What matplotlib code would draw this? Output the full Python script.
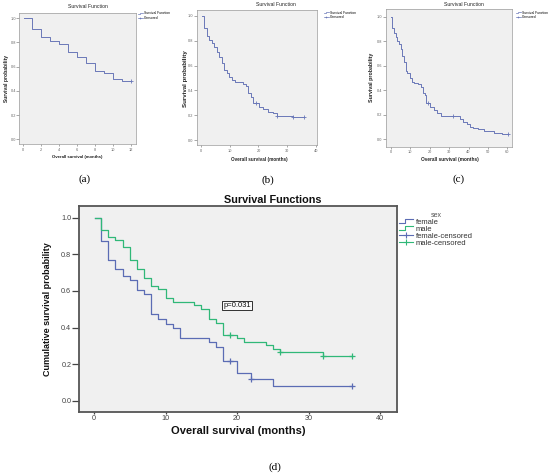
import matplotlib
matplotlib.use('Agg')
import matplotlib.pyplot as plt
from matplotlib.lines import Line2D
from matplotlib.legend_handler import HandlerBase

# --- (a) survival, first 12 months
a_time = [0.1, 1, 2, 3, 4, 5, 6, 7, 8, 9, 10, 11, 12]
a_surv = [1.0, 0.909, 0.843, 0.815, 0.785, 0.724, 0.678, 0.633, 0.567, 0.545, 0.498, 0.480, 0.480]
a_cens_time = [12]
a_cens_surv = [0.480]

# --- (b) survival, 36 months
b_time = [0.5, 1.0, 2.0, 2.8, 3.7, 4.6, 5.45, 6.4, 7.2, 8.1, 9.05, 9.9, 10.9, 11.7,
          14.7, 15.5, 16.5, 17.3, 18.2, 20.2, 21.7, 23.5, 25.2, 26.4, 32.2, 36]
b_surv = [1.0, 0.90, 0.839, 0.806, 0.78, 0.753, 0.712, 0.667, 0.618, 0.565, 0.538, 0.505, 0.484, 0.465,
          0.452, 0.435, 0.376, 0.349, 0.296, 0.263, 0.247, 0.228, 0.215, 0.194, 0.183, 0.183]
b_cens_time = [19.2, 26.4, 32.2, 36]
b_cens_surv = [0.296, 0.194, 0.183, 0.183]

# --- (c) survival, 60 months
c_time = [0.2, 0.84, 1.7, 2.6, 3.4, 4.3, 5.1, 6.0, 6.8, 7.7, 8.6, 9.9, 10.8, 12.2, 14.2, 15.4, 16.6,
          17.6, 18.3, 20.4, 22.1, 23.8, 25.8, 35.5, 37.3, 39, 40.8, 42.5, 45, 48, 53, 57, 60.2]
c_surv = [1.0, 0.91, 0.87, 0.832, 0.804, 0.777, 0.734, 0.68, 0.633, 0.56, 0.543, 0.497, 0.47, 0.462, 0.45, 0.43, 0.378,
          0.36, 0.296, 0.263, 0.242, 0.217, 0.19, 0.163, 0.141, 0.122, 0.103, 0.095, 0.087, 0.068, 0.054, 0.041, 0.041]
c_cens_time = [19, 31.9, 60.2]
c_cens_surv = [0.296, 0.19, 0.041]

# --- (d) survival by sex
f_time = [0.2, 1, 2, 3, 4, 5, 6, 7, 8, 9, 10, 11, 12, 16, 17, 18, 20, 22, 25, 36]
f_surv = [1.0, 0.873, 0.769, 0.72, 0.684, 0.66, 0.606, 0.583, 0.474, 0.447, 0.421, 0.398, 0.343,
          0.32, 0.292, 0.215, 0.153, 0.122, 0.08, 0.08]
f_cens_time = [19, 22, 36]
f_cens_surv = [0.215, 0.122, 0.08]

m_time = [0.2, 1, 2, 3, 4, 5, 6, 7, 8, 9, 10, 11, 14, 15, 16, 17, 18, 20, 21, 24, 25, 26, 32, 36]
m_surv = [1.0, 0.932, 0.894, 0.879, 0.842, 0.77, 0.718, 0.669, 0.628, 0.61, 0.561, 0.539, 0.524,
          0.503, 0.445, 0.427, 0.361, 0.343, 0.32, 0.303, 0.284, 0.265, 0.247, 0.247]
m_cens_time = [19, 26, 32, 36]
m_cens_surv = [0.361, 0.265, 0.247, 0.247]

p_text = "p=0.031"
y_ticks = [0.0, 0.2, 0.4, 0.6, 0.8, 1.0]

W, H = 550, 476
def fx(x):
    return x / W
def fy(y):
    return 1 - y / H
def rect(l, t, r, b):
    return [fx(l), fy(b), (r - l) / W, (b - t) / H]

plt.rcParams['font.family'] = ['Liberation Sans', 'DejaVu Sans']
fig = plt.figure(figsize=(5.5, 4.76), dpi=100)

BLUE_S = '#6a78b8'
BLUE = '#5b6cb4'
GREEN = '#30b878'
BG = '#f0f0f0'


class StepHandler(HandlerBase):
    # little step glyph like the SPSS legend
    def create_artists(self, legend, orig_handle, xdescent, ydescent, width, height, fontsize, trans):
        x0, y0 = -xdescent, -ydescent
        xs = [x0, x0 + 0.45 * width, x0 + 0.45 * width, x0 + width]
        ys = [y0 + 0.2 * height, y0 + 0.2 * height, y0 + 0.85 * height, y0 + 0.85 * height]
        ln = Line2D(xs, ys, color=orig_handle.get_color(), lw=orig_handle.get_linewidth())
        ln.set_transform(trans)
        return [ln]


def small_panel(box, t, s, ct, cs, xlim, xticks, ylim, title_xy, ylab_xy, xlab_xy, ylab_fs, xlab_fs, leg_xy):
    ax = fig.add_axes(rect(*box))
    ax.set_facecolor(BG)
    ax.step(t, s, where='post', color=BLUE_S, lw=0.7)
    ax.plot(ct, cs, '+', color=BLUE_S, ms=2.5, mew=0.6, ls='none')
    ax.set_xlim(xlim)
    ax.set_ylim(ylim)
    ax.set_xticks(xticks)
    ax.set_yticks(y_ticks)
    ax.set_yticklabels([f"{v:.1f}" for v in y_ticks])
    for sp in ax.spines.values():
        sp.set_color('#9a9a9a')
        sp.set_linewidth(0.5)
    ax.tick_params(axis='y', length=2, width=0.4, pad=0.4, labelsize=2.8, colors='#666')
    ax.tick_params(axis='x', length=1.5, width=0.4, pad=1.2, labelsize=2.8, colors='#666')
    fig.text(fx(title_xy[0]), fy(title_xy[1]), "Survival Function", ha='center', va='center',
             fontsize=3.7, color='#222')
    fig.text(fx(ylab_xy[0]), fy(ylab_xy[1]), "Survival probability", rotation=90, ha='center',
             va='center', fontsize=ylab_fs, weight='bold', color='#222')
    fig.text(fx(xlab_xy[0]), fy(xlab_xy[1]), "Overall survival (months)", ha='center', va='center',
             fontsize=xlab_fs, weight='bold', color='#222')
    h1 = Line2D([], [], color=BLUE_S, lw=0.5)
    h2 = Line2D([], [], color=BLUE_S, lw=0.5, marker='+', ms=2, mew=0.4)
    ax.legend([h1, h2], ["Survival Function", "Censored"], handler_map={h1: StepHandler()},
              loc='upper left', bbox_to_anchor=(fx(leg_xy[0]), fy(leg_xy[1])),
              bbox_transform=fig.transFigure, frameon=False, fontsize=2.4,
              handlelength=1.6, handletextpad=0.3, labelspacing=0.15, borderpad=0, borderaxespad=0)
    return ax


small_panel((19.3, 12.7, 136, 144.3), a_time, a_surv, a_cens_time, a_cens_surv,
            (-0.45, 12.6), range(0, 13, 2), (-0.041, 1.046),
            (88.3, 6.7), (6.7, 78), (77.3, 157.3), 3.6, 3.1, (137.5, 11.5))
small_panel((196.7, 10, 317.3, 145), b_time, b_surv, b_cens_time, b_cens_surv,
            (-1.5, 40.5), range(0, 41, 10), (-0.04, 1.048),
            (275.5, 5), (185, 78.3), (259, 159.3), 4.4, 3.3, (323.5, 10.5))
small_panel((386, 9.3, 511.7, 146.7), c_time, c_surv, c_cens_time, c_cens_surv,
            (-2.4, 62.2), range(0, 61, 10), (-0.06, 1.06),
            (464, 5), (371.7, 77.7), (449.7, 159.3), 3.8, 3.4, (515.5, 10.5))

# --- panel (d)
ax = fig.add_axes(rect(79, 206, 396.7, 411.5))
ax.set_facecolor(BG)
ax.step(f_time, f_surv, where='post', color=BLUE, lw=0.9)
ax.step(m_time, m_surv, where='post', color=GREEN, lw=0.9)
ax.plot(f_cens_time, f_cens_surv, '+', color=BLUE, ms=4, mew=0.9, ls='none')
ax.plot(m_cens_time, m_cens_surv, '+', color=GREEN, ms=4, mew=0.9, ls='none')
ax.set_xlim(-2.1, 42.3)
ax.set_ylim(-0.058, 1.064)
ax.set_xticks(range(0, 41, 10))
ax.set_yticks(y_ticks)
ax.set_yticklabels([f"{v:.1f}" for v in y_ticks])
for sp in ax.spines.values():
    sp.set_color('#555')
    sp.set_linewidth(1.3)
ax.tick_params(axis='y', length=5, width=0.9, pad=0.5, labelsize=5.2, colors='#444')
ax.tick_params(axis='x', length=1.5, width=0.9, pad=0.8, labelsize=5.2, colors='#444')
ax.text(18.1, 0.519, p_text, ha='left', va='center', fontsize=5.5, color='#111',
        bbox=dict(boxstyle='square,pad=0.15', fc='#fafafa', ec='#111', lw=0.6))

hf = Line2D([], [], color=BLUE, lw=0.8)
hm = Line2D([], [], color=GREEN, lw=0.8)
hfc = Line2D([], [], color=BLUE, lw=0.8, marker='+', ms=4, mew=0.8)
hmc = Line2D([], [], color=GREEN, lw=0.8, marker='+', ms=4, mew=0.8)
leg = ax.legend([hf, hm, hfc, hmc], ["female", "male", "female-censored", "male-censored"],
                handler_map={hf: StepHandler(), hm: StepHandler()},
                title="sex", loc='upper left', bbox_to_anchor=(fx(399), fy(212)),
                bbox_transform=fig.transFigure, frameon=False, fontsize=5.5, title_fontsize=5,
                handlelength=1.8, handletextpad=0.4, labelspacing=-0.05, borderpad=0, borderaxespad=0)
leg.get_title().set_color('#555')
for t in leg.get_texts():
    t.set_color('#333')

fig.text(fx(272.5), fy(200), "Survival Functions", ha='center', va='center', fontsize=7.8,
         weight='bold', color='#111')
fig.text(fx(48), fy(309.5), "Cumulative survival probability", rotation=90, ha='center', va='center',
         fontsize=6.5, weight='bold', color='#111', family=['Liberation Sans Narrow', 'Liberation Sans'])
fig.text(fx(238), fy(430.7), "Overall survival (months)", ha='center', va='center', fontsize=8,
         weight='bold', color='#111')

# panel letters
for lab, x, y in [("(a)", 84.5, 179.5), ("(b)", 268.3, 180), ("(c)", 458.3, 179.3), ("(d)", 275, 467)]:
    fig.text(fx(x), fy(y), lab, ha='center', va='center', fontsize=8, family='Liberation Serif')

fig.savefig('out.png', dpi=100)
